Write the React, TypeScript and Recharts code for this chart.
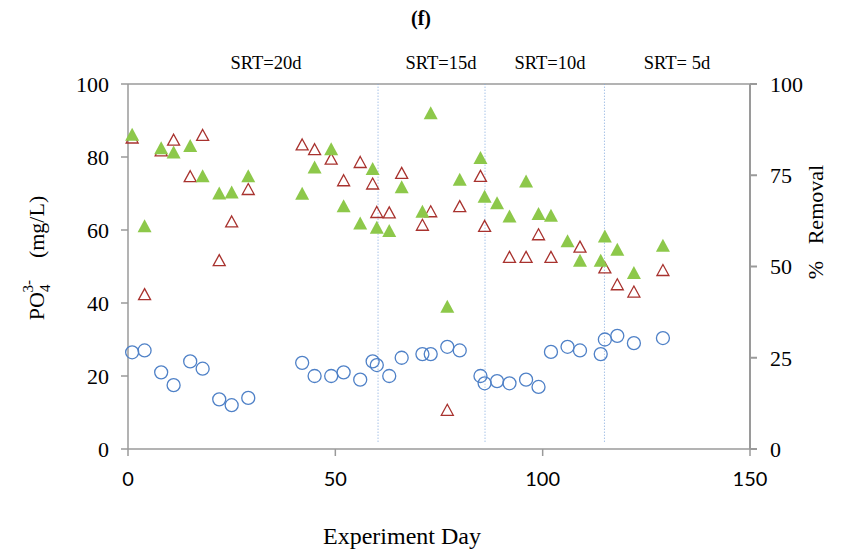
import type { JSX } from 'react';
import {
  ReferenceLine,
  Scatter,
  ScatterChart,
  XAxis,
  YAxis,
} from 'recharts';

// Open circles: PO4 concentration (mg/L)
const circleDays = [1, 4, 8, 11, 15, 18, 22, 25, 29, 42, 45, 49, 52, 56, 59, 60, 63, 66, 71, 73, 77, 80, 85, 86, 89, 92, 96, 99, 102, 106, 109, 114, 115, 118, 122, 129];
const circleValues = [26.5, 27, 21, 17.5, 24, 22, 13.6, 12, 14, 23.6, 20, 20, 21, 19, 24, 23, 20, 25, 26, 26, 28, 27, 20, 18, 18.6, 18, 19, 17, 26.6, 28, 27, 26, 30, 31, 29, 30.4];

// Open red triangles
const openTriangleDays = [1, 4, 8, 11, 15, 18, 22, 25, 29, 42, 45, 49, 52, 56, 59, 60, 63, 66, 71, 73, 77, 80, 85, 86, 92, 96, 99, 102, 109, 115, 118, 122, 129];
const openTriangleValues = [85.2, 42.3, 81.7, 84.6, 74.6, 85.9, 51.6, 62.2, 71.1, 83.3, 82, 79.4, 73.5, 78.5, 72.6, 64.8, 64.7, 75.5, 61.3, 65, 10.6, 66.4, 74.7, 61, 52.5, 52.5, 58.7, 52.5, 55.3, 49.6, 45, 43, 48.9];

// Filled green triangles: % removal
const filledTriangleDays = [1, 4, 8, 11, 15, 18, 22, 25, 29, 42, 45, 49, 52, 56, 59, 60, 63, 66, 71, 73, 77, 80, 85, 86, 89, 92, 96, 99, 102, 106, 109, 114, 115, 118, 122, 129];
const filledTriangleValues = [86.1, 61, 82.4, 81.2, 83, 74.7, 70, 70.3, 74.7, 69.9, 77.1, 82.1, 66.5, 61.8, 76.7, 60.6, 59.7, 71.7, 65, 92, 39, 73.8, 79.7, 69.1, 67.3, 63.7, 73.3, 64.4, 63.9, 56.9, 51.6, 51.6, 58.2, 54.6, 48.2, 55.7];

// SRT phase boundaries (day) and labels
const srtBoundaries = [60.3, 86.1, 114.9];
const srtLabels = ['SRT=20d', 'SRT=15d', 'SRT=10d', 'SRT= 5d'];

const xTicks = [0, 50, 100, 150];
const leftTicks = [0, 20, 40, 60, 80, 100];
const rightTicks = [0, 25, 50, 75, 100];

const toPoints = (days: number[], values: number[]) =>
  days.map((day, i) => ({ day, value: values[i] }));

const circles = toPoints(circleDays, circleValues);
const openTriangles = toPoints(openTriangleDays, openTriangleValues);
const filledTriangles = toPoints(filledTriangleDays, filledTriangleValues);

const SERIF = '"Liberation Serif", "Times New Roman", serif';
const SANS = 'Lato, "Liberation Sans", Arial, sans-serif';
const AXIS_GREY = '#9a9a9a';

function CircleMarker({ cx, cy }: { cx?: number; cy?: number }): JSX.Element {
  return <circle cx={cx} cy={cy} r={6.5} fill="none" stroke="#4f81c7" strokeWidth={1.3} />;
}

function OpenTriangle({ cx, cy }: { cx?: number; cy?: number }): JSX.Element {
  const x = cx ?? 0;
  const y = cy ?? 0;
  return (
    <path
      d={`M${x},${y - 6} L${x + 6},${y + 5} L${x - 6},${y + 5} Z`}
      fill="none"
      stroke="#a8322e"
      strokeWidth={1.3}
    />
  );
}

function FilledTriangle({ cx, cy }: { cx?: number; cy?: number }): JSX.Element {
  const x = cx ?? 0;
  const y = cy ?? 0;
  return <path d={`M${x},${y - 7} L${x + 7},${y + 6} L${x - 7},${y + 6} Z`} fill="#8dc84a" />;
}

export default function App(): JSX.Element {
  const labelCenters = [266, 441, 550, 677];
  return (
    <div style={{ position: 'relative', width: 843, height: 553, marginTop: -8, marginLeft: -8, background: '#fff' }}>
      <ScatterChart
        width={843}
        height={553}
        margin={{ top: 84, right: 0, bottom: 0, left: 0 }}
      >
        <XAxis
          type="number"
          dataKey="day"
          domain={[0, 150]}
          ticks={xTicks}
          height={104}
          tickSize={7}
          tickMargin={16}
          stroke={AXIS_GREY}
          strokeWidth={1.5}
          tick={{ fill: '#000', fontSize: 20, fontFamily: SANS }}
        />
        <YAxis
          yAxisId="left"
          type="number"
          dataKey="value"
          domain={[0, 100]}
          ticks={leftTicks}
          width={128}
          tickSize={7}
          tickMargin={12}
          stroke={AXIS_GREY}
          strokeWidth={1.5}
          tick={{ fill: '#000', fontSize: 22, fontFamily: SERIF }}
        />
        <YAxis
          yAxisId="right"
          orientation="right"
          type="number"
          dataKey="value"
          domain={[0, 100]}
          ticks={rightTicks}
          width={93}
          tickSize={7}
          tickMargin={13}
          stroke={AXIS_GREY}
          strokeWidth={2}
          tick={{ fill: '#000', fontSize: 22, fontFamily: SERIF, textAnchor: 'start' }}
        />
        <ReferenceLine yAxisId="left" y={100} stroke={AXIS_GREY} strokeWidth={1.5} />
        {srtBoundaries.map((d) => (
          <ReferenceLine
            key={d}
            yAxisId="left"
            segment={[
              { x: d, y: 2 },
              { x: d, y: 100 },
            ]}
            stroke="#7ea6dc"
            strokeWidth={1}
            strokeDasharray="1 2"
          />
        ))}
        <Scatter
          yAxisId="left"
          data={circles}
          shape={<CircleMarker />}
          isAnimationActive={false}
        />
        <Scatter
          yAxisId="right"
          data={openTriangles}
          shape={<OpenTriangle />}
          isAnimationActive={false}
        />
        <Scatter
          yAxisId="right"
          data={filledTriangles}
          shape={<FilledTriangle />}
          isAnimationActive={false}
        />
        <text x={421} y={25} textAnchor="middle" fontFamily={SERIF} fontWeight="bold" fontSize={20}>
          (f)
        </text>
        {srtLabels.map((label, i) => (
          <text
            key={label}
            x={labelCenters[i]}
            y={69}
            textAnchor="middle"
            fontFamily={SERIF}
            fontSize={18.5}
            style={{ whiteSpace: 'pre' }}
          >
            {label}
          </text>
        ))}
        <text
          transform="translate(44,258) rotate(-90)"
          textAnchor="middle"
          fontFamily={SERIF}
          fontSize={22}
        >
          PO
          <tspan fontSize={15} dy={6}>4</tspan>
          <tspan fontSize={15} dy={-17} dx={-8}>3-</tspan>
          <tspan dy={11}>{'\u00a0\u00a0\u00a0 (mg/L)'}</tspan>
        </text>
        <text
          transform="translate(823,222) rotate(-90)"
          textAnchor="middle"
          fontFamily={SERIF}
          fontSize={22}
        >
          {'%\u00a0\u00a0 Removal'}
        </text>
        <text x={402} y={544} textAnchor="middle" fontFamily={SERIF} fontSize={24}>
          Experiment Day
        </text>
      </ScatterChart>
    </div>
  );
}
